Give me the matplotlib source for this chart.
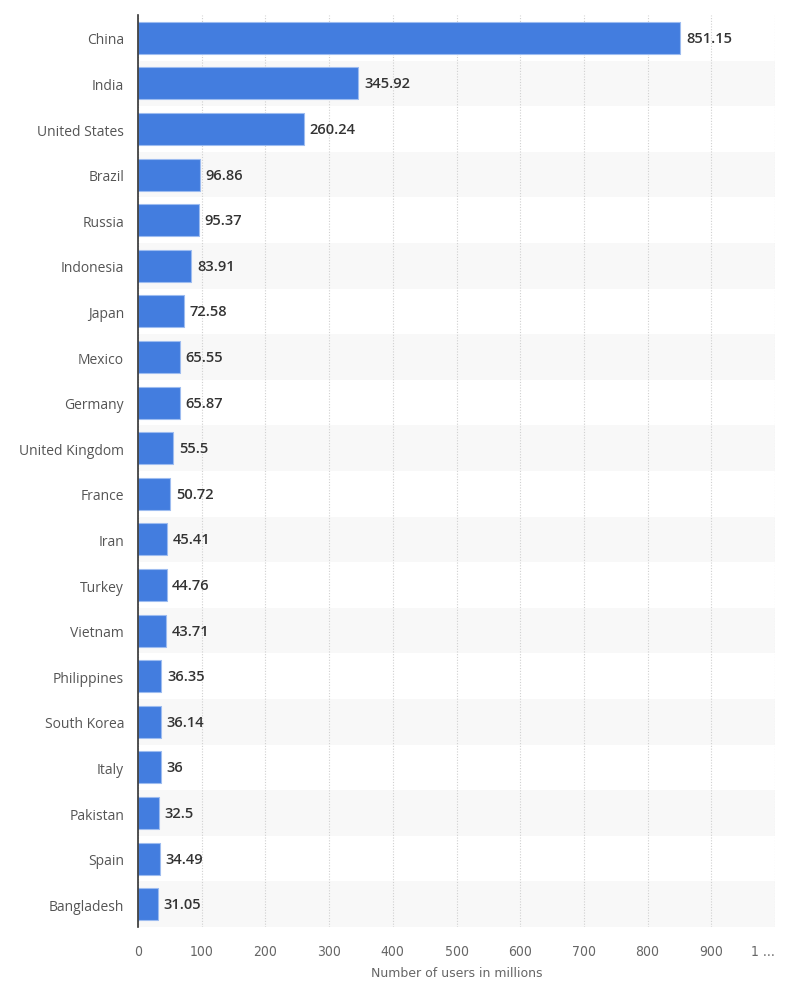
import matplotlib.pyplot as plt
from matplotlib.patches import Rectangle

countries = ["China", "India", "United States", "Brazil", "Russia", "Indonesia",
             "Japan", "Mexico", "Germany", "United Kingdom", "France", "Iran",
             "Turkey", "Vietnam", "Philippines", "South Korea", "Italy",
             "Pakistan", "Spain", "Bangladesh"]
users = [851.15, 345.92, 260.24, 96.86, 95.37, 83.91, 72.58, 65.55, 65.87, 55.5,
         50.72, 45.41, 44.76, 43.71, 36.35, 36.14, 36, 32.5, 34.49, 31.05]
labels = ["851.15", "345.92", "260.24", "96.86", "95.37", "83.91", "72.58",
          "65.55", "65.87", "55.5", "50.72", "45.41", "44.76", "43.71", "36.35",
          "36.14", "36", "32.5", "34.49", "31.05"]
ticks = [0, 100, 200, 300, 400, 500, 600, 700, 800, 900, 1000]
tick_labels = ["0", "100", "200", "300", "400", "500", "600", "700", "800", "900", "1 ..."]

fig = plt.figure(figsize=(8, 9.95), dpi=100)
ax = fig.add_axes([0.1725, 0.0673, 0.79625, 0.9166])

n = len(countries)
pos = list(range(n))

# alternating row bands
for i in pos:
    if i % 2 == 1:
        ax.add_patch(Rectangle((0, i - 0.5), 1000, 1, facecolor="#f8f8f8",
                               edgecolor="none", zorder=0))

ax.barh(pos, users, height=0.7, color="#437ddf", edgecolor="#9dbcf0",
        linewidth=0.8, zorder=3)

for i, (v, t) in enumerate(zip(users, labels)):
    ax.text(v + 9, i, t, va="center", ha="left", fontsize=10.5, color="#333333",
            fontweight="semibold", family="Open Sans", zorder=4)

ax.set_xlim(0, 1000)
ax.set_ylim(n - 0.5, -0.5)
ax.set_yticks(pos)
ax.set_yticklabels(countries, fontsize=10, color="#555555", family="Open Sans")
ax.set_xticks(ticks)
ax.set_xticklabels(tick_labels, fontsize=10, color="#666666", family="DejaVu Sans",
                   fontstretch="condensed")
ax.get_xticklabels()[-1].set_horizontalalignment("right")
ax.tick_params(axis="both", length=0)
ax.tick_params(axis="y", pad=10)
ax.tick_params(axis="x", pad=12)

ax.xaxis.grid(True, linestyle=(0, (1, 1.5)), color="#d0d0d0", linewidth=0.8, zorder=1)
ax.set_axisbelow(True)

for s in ["top", "right", "bottom"]:
    ax.spines[s].set_visible(False)
ax.spines["left"].set_color("#333333")
ax.spines["left"].set_linewidth(1.2)
ax.spines["left"].set_zorder(5)

ax.set_xlabel("Number of users in millions", fontsize=9, color="#666666", labelpad=6)

fig.savefig("out.png", dpi=100)
